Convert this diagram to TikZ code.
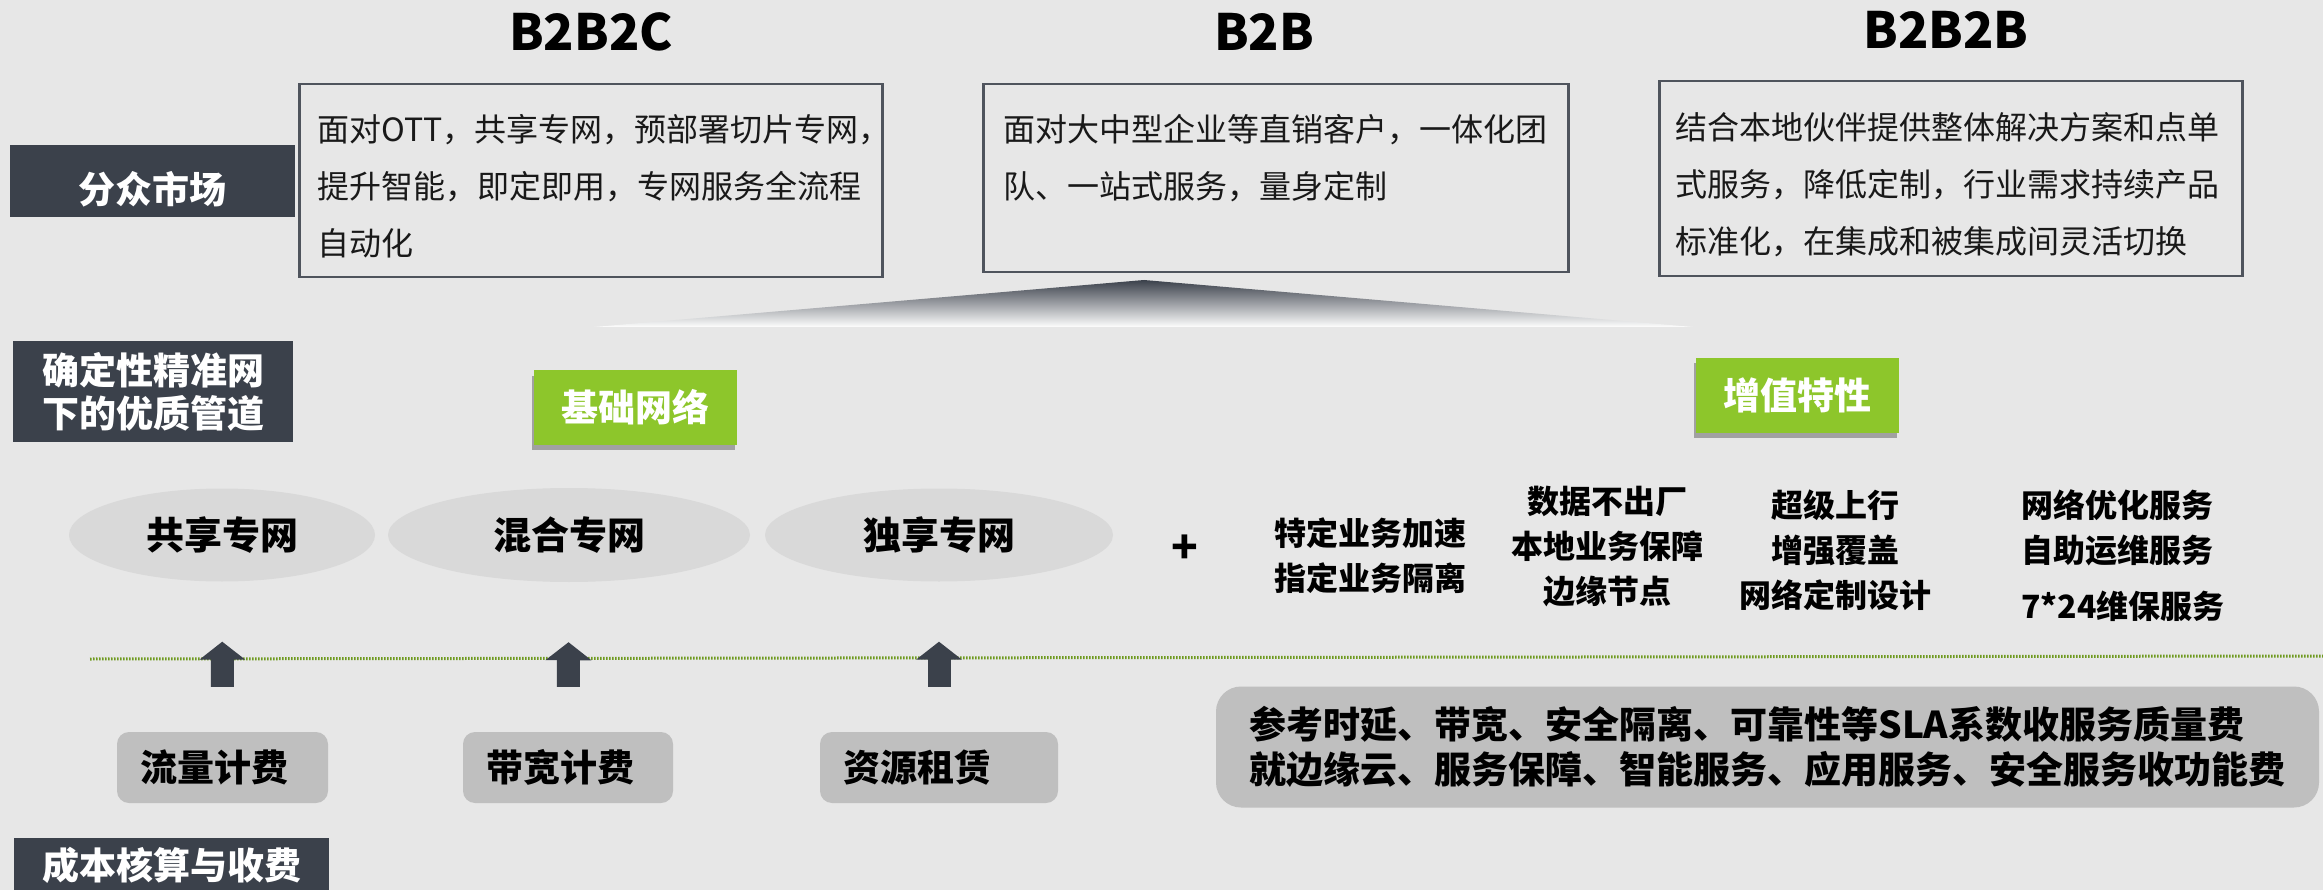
\documentclass[tikz,border=0pt]{standalone}
\usepackage{fontspec}
\setmainfont{Noto Sans CJK SC}
\usetikzlibrary{shapes.geometric,arrows.meta,positioning,shadows}
\definecolor{slate}{HTML}{3B414B}
\definecolor{pagebg}{HTML}{E7E7E7}
\definecolor{lime}{HTML}{8DC62B}
\definecolor{ovalgray}{HTML}{D9D9D9}
\definecolor{feegray}{HTML}{BFBFBF}
\definecolor{dotgreen}{HTML}{6E9A1E}

\begin{document}
\begin{tikzpicture}[x=1pt,y=-1pt,
    side/.style={fill=slate,text=white,font=\fontsize{37}{43}\selectfont\bfseries,align=center,inner sep=0pt},
    heading/.style={font=\fontsize{50}{50}\selectfont\bfseries,inner sep=0pt},
    descbox/.style={draw=slate!90!white,line width=2.5pt,anchor=north west},
    desctext/.style={font=\fontsize{32}{57}\selectfont,align=left,inner sep=0pt,anchor=north west,text=black!90},
    tag/.style={fill=lime,text=white,font=\fontsize{37}{37}\selectfont\bfseries,minimum width=203pt,minimum height=74pt,
      drop shadow={shadow xshift=-2pt,shadow yshift=-5pt,opacity=0.3,fill=black}},
    netoval/.style={ellipse,fill=ovalgray,font=\fontsize{38}{38}\selectfont\bfseries,inner sep=0pt},
    feature/.style={font=\fontsize{32}{45}\selectfont\bfseries,align=center,inner sep=0pt},
    fee/.style={fill=feegray,rounded corners=12pt,font=\fontsize{37}{45}\selectfont\bfseries,minimum height=71pt,
      inner xsep=23pt,inner ysep=0pt,align=left},
    uparrow/.style={draw=slate,line width=23pt,-{Triangle[width=45pt,length=18pt]},shorten <=45pt,shorten >=60pt}]

  \fill[pagebg] (0,0) rectangle (2323,890);
  \useasboundingbox (0,0) rectangle (2323,890);

  \node[side,minimum width=285pt,minimum height=72pt,text height=50pt,text depth=4pt] (market) at (152.5,181) {分众市场};
  \node[side,minimum width=280pt,minimum height=101pt] (pipe) at (153,391.5) {确定性精准网\\下的优质管道};
  \node[side,minimum width=315pt,minimum height=54pt] (billing) at (171.5,865) {成本核算与收费};

  \node[heading] (b2b2c) at (591,32) {B2B2C};
  \node[heading] (b2b) at (1264,32) {B2B};
  \node[heading] (b2b2b) at (1946,30) {B2B2B};

  \node[descbox,minimum width=583pt,minimum height=193pt] (b2b2cbox) at (298,83) {};
  \node[descbox,minimum width=585pt,minimum height=188pt] (b2bbox) at (982,83) {};
  \node[descbox,minimum width=583pt,minimum height=195pt] (b2b2bbox) at (1658,80) {};
  \node[desctext,below right=31pt and 19pt of b2b2cbox.north west] (b2b2ctext) {面对OTT，共享专网，预部署切片专网，\\提升智能，即定即用，专网服务全流程\\自动化};
  \node[desctext,below right=31pt and 21pt of b2bbox.north west] (b2btext) {面对大中型企业等直销客户，一体化团\\队、一站式服务，量身定制};
  \node[desctext,below right=32pt and 17pt of b2b2bbox.north west] (b2b2btext) {结合本地伙伴提供整体解决方案和点单\\式服务，降低定制，行业需求持续产品\\标准化，在集成和被集成间灵活切换};

  \shade[shading=axis,top color=slate,middle color=slate!70!pagebg,bottom color=white!95!pagebg] (594,327) -- (1144,280) -- (1693,327) -- cycle;

  \node[tag] (basic) at (635.5,407.5) {基础网络};
  \node[tag] (valueadd) at (1797.5,395.5) {增值特性};

  \node[netoval,minimum width=306pt,minimum height=93pt] (shared) at (222,535) {共享专网};
  \node[netoval,minimum width=362pt,minimum height=94pt] (hybrid) at (569,535) {混合专网};
  \node[netoval,minimum width=348pt,minimum height=93pt] (dedicated) at (939,535) {独享专网};
  \node[font=\fontsize{44}{44}\selectfont\bfseries,inner sep=0pt] (plus) at (1185,549) {+};

  \node[feature] (speed) at (1370,556) {特定业务加速\\指定业务隔离};
  \node[feature] (local) at (1607,547) {数据不出厂\\本地业务保障\\边缘节点};
  \node[feature] (uplink) at (1835,550) {超级上行\\增强覆盖\\网络定制设计};
  \node[feature,align=left,anchor=west] (service) at (2021,556) {网络优化服务\\自助运维服务\\[11pt]7*24维保服务};

  \draw[dotgreen,line width=3pt,dash pattern=on 1.5pt off 1.5pt] (90,659) -- (2323,656);

  \node[fee,text width=165pt] (traffic) at (222.5,767.5) {流量计费};
  \node[fee,text width=164pt] (bandwidth) at (568,767.5) {带宽计费};
  \node[fee,text width=192pt] (lease) at (939,767.5) {资源租赁};
  \node[fee,rounded corners=25pt,minimum width=1103pt,minimum height=121pt] (sla) at (1767.5,747) {参考时延、带宽、安全隔离、可靠性等SLA系数收服务质量费\\就边缘云、服务保障、智能服务、应用服务、安全服务收功能费};

  \draw[uparrow] (traffic) -- (shared);
  \draw[uparrow] (bandwidth) -- (hybrid);
  \draw[uparrow] (lease) -- (dedicated);

\end{tikzpicture}
\end{document}
